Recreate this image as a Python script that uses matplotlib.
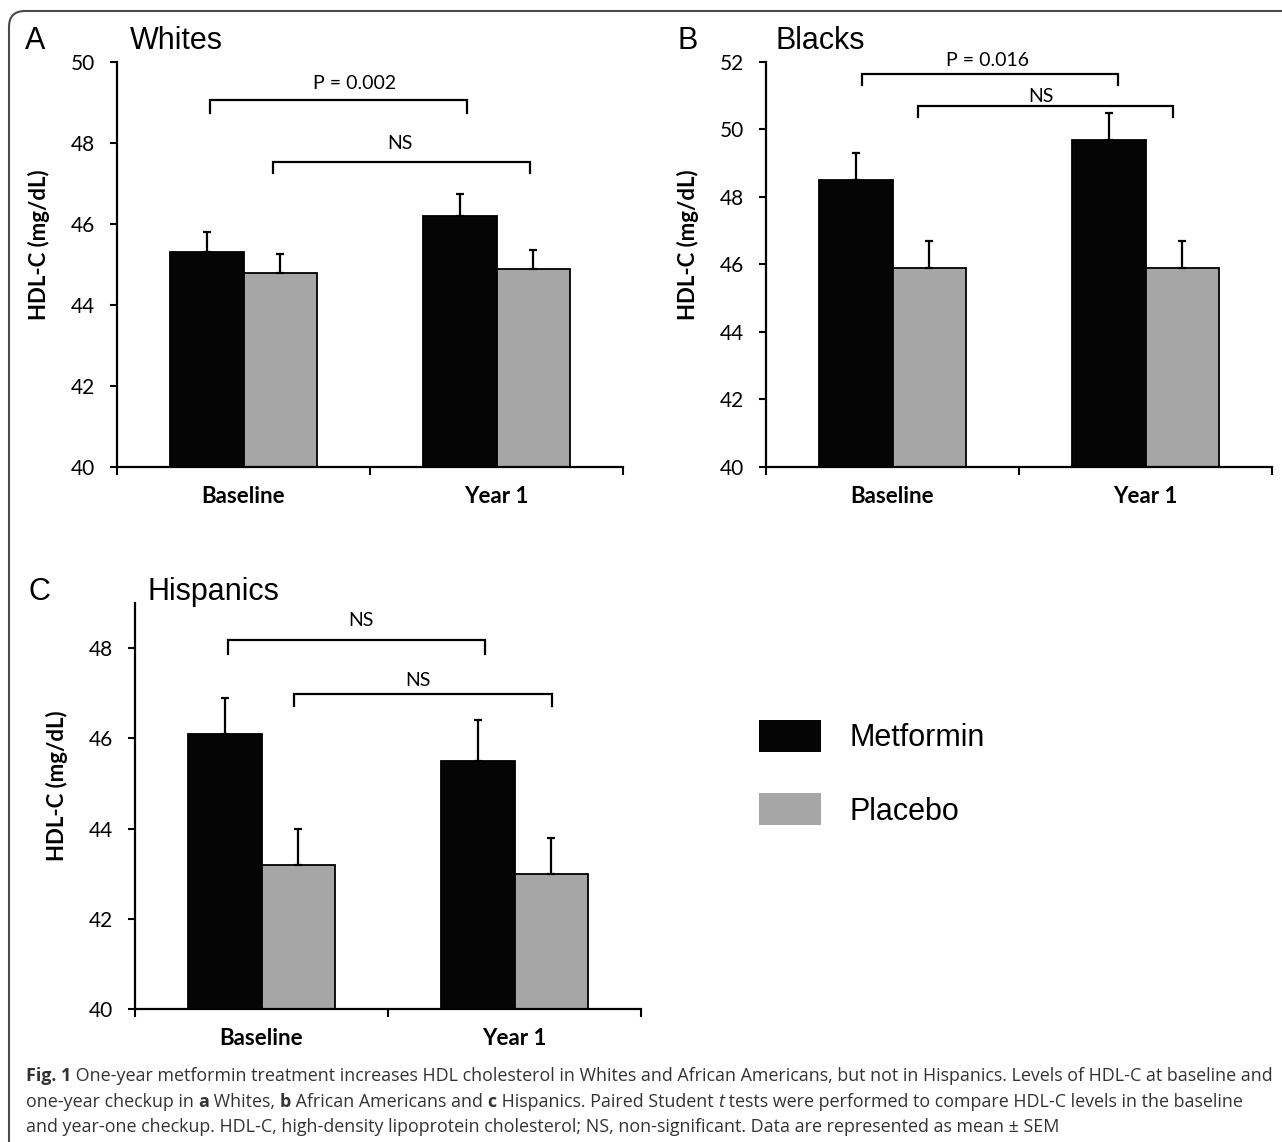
import matplotlib
matplotlib.use("Agg")
import matplotlib.pyplot as plt
import numpy as np
from matplotlib.patches import Patch, FancyBboxPatch
from matplotlib.transforms import IdentityTransform

# ---------------- data ----------------
categories = ["Baseline", "Year 1"]
series_names = ["Metformin", "Placebo"]

whites_met = [45.3, 46.2]
whites_met_sem = [0.5, 0.53]
whites_pla = [44.8, 44.9]
whites_pla_sem = [0.45, 0.46]

blacks_met = [48.5, 49.7]
blacks_met_sem = [0.8, 0.8]
blacks_pla = [45.9, 45.9]
blacks_pla_sem = [0.8, 0.8]

hisp_met = [46.1, 45.5]
hisp_met_sem = [0.8, 0.9]
hisp_pla = [43.2, 43.0]
hisp_pla_sem = [0.8, 0.8]

whites_labels = ["P = 0.002", "NS"]
blacks_labels = ["P = 0.016", "NS"]
hisp_labels = ["NS", "NS"]

# ---------------- style ----------------
W, H = 1282, 1142
fig = plt.figure(figsize=(W / 100, H / 100), dpi=100)
fig.patch.set_facecolor("white")

BLACK = "#050505"
GREY = "#a6a6a6"
TICK_FONT = "Lato"
TITLE_FONT = "Liberation Sans"
CAP_FONT = "Open Sans"
BW = 0.29


def px_axes(left, top, right, bottom):
    return fig.add_axes([left / W, 1 - bottom / H, (right - left) / W, (bottom - top) / H])


def panel(ax, met, met_sem, pla, pla_sem, ylim, yticks, brackets, labels):
    x = np.arange(len(categories))
    ekw = dict(elinewidth=1.6, capsize=3, capthick=1.6, ecolor="black")
    ax.bar(x - BW / 2, met, BW, color=BLACK, edgecolor="black", linewidth=1.3,
           yerr=[np.zeros(len(met)), met_sem], error_kw=ekw, zorder=2)
    ax.bar(x + BW / 2, pla, BW, color=GREY, edgecolor="black", linewidth=1.3,
           yerr=[np.zeros(len(pla)), pla_sem], error_kw=ekw, zorder=2)
    ax.set_xlim(-0.5, 1.5)
    ax.set_ylim(*ylim)
    ax.set_yticks(yticks)
    ax.set_yticklabels([str(t) for t in yticks], fontfamily=TICK_FONT, fontsize=15)
    ax.set_xticks([-0.5, 0.5, 1.5])
    ax.set_xticklabels([])
    ax.set_xticks(x, minor=True)
    ax.set_xticklabels(categories, minor=True, fontfamily=TICK_FONT, fontsize=16, fontweight="bold")
    ax.tick_params(axis="x", which="minor", length=0, pad=14)
    ax.tick_params(axis="x", which="major", direction="out", length=6, width=1.5)
    ax.tick_params(axis="y", direction="out", length=5, width=1.5, pad=11)
    for s in ["top", "right"]:
        ax.spines[s].set_visible(False)
    for s in ["left", "bottom"]:
        ax.spines[s].set_linewidth(1.6)
    ax.text(-78 / 506, 0.55, "HDL-C (mg/dL)", transform=ax.transAxes, rotation=90,
            ha="center", va="center", fontfamily=TICK_FONT, fontsize=16, fontweight="bold")
    for (x1, x2, top, leg, tx, ty), lab in zip(brackets, labels):
        ax.plot([x1, x1, x2, x2], [leg, top, top, leg], color="black", lw=1.6,
                clip_on=False, solid_joinstyle="miter", zorder=3)
        ax.text(tx, ty, lab, ha="center", va="center", fontfamily=TICK_FONT, fontsize=14,
                clip_on=False)


# Panel A
axA = px_axes(117, 62, 623, 467)
panel(axA, whites_met, whites_met_sem, whites_pla, whites_pla_sem, (40, 50), [40, 42, 44, 46, 48, 50],
      [(-0.132, 0.883, 49.05, 48.75, 0.44, 49.47),
       (0.117, 1.134, 47.53, 47.26, 0.62, 47.99)], whites_labels)

# Panel B
axB = px_axes(766, 62, 1272, 467)
panel(axB, blacks_met, blacks_met_sem, blacks_pla, blacks_pla_sem, (40, 52), [40, 42, 44, 46, 48, 50, 52],
      [(-0.119, 0.891, 51.64, 51.32, 0.377, 52.04),
       (0.099, 1.11, 50.70, 50.36, 0.585, 50.99)], blacks_labels)

# Panel C
axC = px_axes(135, 603, 641, 1009)
panel(axC, hisp_met, hisp_met_sem, hisp_pla, hisp_pla_sem, (40, 49), [40, 42, 44, 46, 48],
      [(-0.132, 0.884, 48.17, 47.88, 0.395, 48.61),
       (0.13, 1.15, 46.98, 46.72, 0.618, 47.29)], hisp_labels)

# Panel letters and titles
for letter, lx, title, tx, cy in [("A", 25, "Whites", 130, 41), ("B", 677, "Blacks", 775, 41),
                                   ("C", 29, "Hispanics", 147, 592)]:
    fig.text(lx / W, 1 - cy / H, letter, fontfamily=TITLE_FONT, fontsize=22, ha="left", va="center")
    fig.text(tx / W, 1 - cy / H, title, fontfamily=TITLE_FONT, fontsize=22, ha="left", va="center")

# Legend
handles = [Patch(facecolor=BLACK, edgecolor="none"), Patch(facecolor=GREY, edgecolor="none")]
leg = fig.legend(handles, series_names, loc="upper left", bbox_to_anchor=(759 / W, 1 - 720 / H),
                 frameon=False, prop={"family": TITLE_FONT, "size": 22},
                 handlelength=2.03, handleheight=1.25, handletextpad=0.92,
                 labelspacing=1.3, borderpad=0, borderaxespad=0)

# Border with rounded top-left corner
border = FancyBboxPatch((9, -30), W + 40, H - 11 + 30, boxstyle="round,pad=0,rounding_size=16",
                        transform=IdentityTransform(), facecolor="none", edgecolor="#4a4a4a", lw=1.5)
fig.patches.append(border)

# Caption
fig.canvas.draw()
renderer = fig.canvas.get_renderer()
CAP_SIZE = 12.9
CAP_COLOR = "#333333"
caption_lines = [
    (1081, [("Fig. 1", "bold", "normal"),
            (" One-year metformin treatment increases HDL cholesterol in Whites and African Americans, but not in Hispanics. Levels of HDL-C at baseline and", "normal", "normal")]),
    (1107, [("one-year checkup in ", "normal", "normal"), ("a", "bold", "normal"),
            (" Whites, ", "normal", "normal"), ("b", "bold", "normal"),
            (" African Americans and ", "normal", "normal"), ("c", "bold", "normal"),
            (" Hispanics. Paired Student ", "normal", "normal"), ("t", "normal", "italic"),
            (" tests were performed to compare HDL-C levels in the baseline", "normal", "normal")]),
    (1132, [("and year-one checkup. HDL-C, high-density lipoprotein cholesterol; NS, non-significant. Data are represented as mean \u00b1 SEM", "normal", "normal")]),
]
for ypx, segs in caption_lines:
    xpx = 26
    for txt, wt, st in segs:
        t = fig.text(xpx / W, 1 - ypx / H, txt, fontfamily=CAP_FONT, fontsize=CAP_SIZE,
                     fontweight=wt, fontstyle=st, color=CAP_COLOR, ha="left", va="baseline")
        bb = t.get_window_extent(renderer)
        xpx += bb.width

fig.savefig("out.png", dpi=100, facecolor="white")
